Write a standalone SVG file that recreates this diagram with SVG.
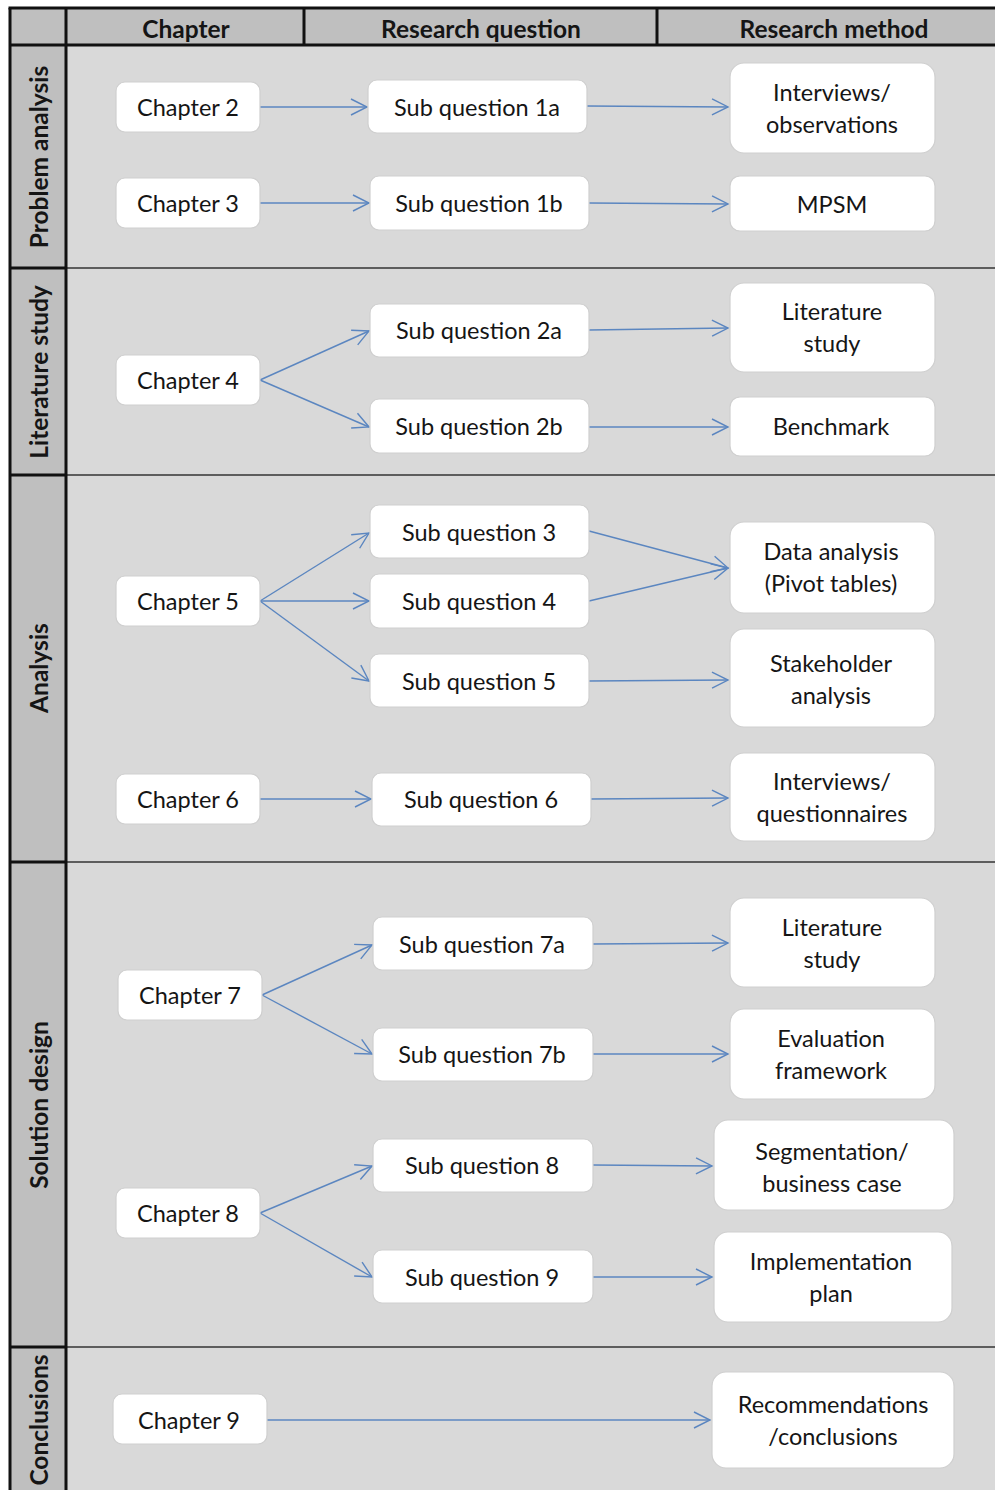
<svg xmlns="http://www.w3.org/2000/svg" width="995" height="1490" viewBox="0 0 995 1490">
<style>
.bg{fill:#d9d9d9}
.hd{fill:#bfbfbf}
.thick{stroke:#111;stroke-width:3;fill:none}
.thin{stroke:#333;stroke-width:1.5;fill:none}
.box{fill:#fff;stroke:#cfcfcf;stroke-width:1.2}
.t{font-family:Lato,"Open Sans","Liberation Sans",sans-serif;font-size:23.5px;fill:#151515;text-anchor:middle;dominant-baseline:central}
.h{font-family:Lato,"Open Sans","Liberation Sans",sans-serif;font-size:24.5px;font-weight:bold;fill:#151515;text-anchor:middle;dominant-baseline:central}
.r{font-family:Lato,"Open Sans","Liberation Sans",sans-serif;font-size:24.5px;font-weight:bold;fill:#151515;text-anchor:middle;dominant-baseline:central}
.c{stroke:#5b86c0;stroke-width:1.4;fill:none;marker-end:url(#ah)}
</style>
<defs>
<marker id="ah" markerUnits="userSpaceOnUse" markerWidth="20" markerHeight="22" viewBox="-18 -10 20 20" refX="0" refY="0" orient="auto">
<path d="M-16,-8 L0,0 L-16,8" fill="none" stroke="#5b86c0" stroke-width="1.4"/>
</marker>
</defs>
<g id="table">
<rect x="0" y="0" width="995" height="1490" fill="#fff"/>
<rect class="bg" x="66" y="45" width="929" height="1445"/>
<rect class="hd" x="10" y="8" width="985" height="37"/>
<rect class="hd" x="10" y="45" width="56" height="1445"/>
<line class="thin" x1="66" y1="268" x2="995" y2="268"/>
<line class="thin" x1="66" y1="475" x2="995" y2="475"/>
<line class="thin" x1="66" y1="862" x2="995" y2="862"/>
<line class="thin" x1="66" y1="1347" x2="995" y2="1347"/>
<line class="thick" x1="10" y1="268" x2="66" y2="268"/>
<line class="thick" x1="10" y1="475" x2="66" y2="475"/>
<line class="thick" x1="10" y1="862" x2="66" y2="862"/>
<line class="thick" x1="10" y1="1347" x2="66" y2="1347"/>
<line class="thick" x1="8.5" y1="8" x2="995" y2="8"/>
<line class="thick" x1="10" y1="45" x2="995" y2="45"/>
<line class="thick" x1="10" y1="8" x2="10" y2="1490"/>
<line class="thick" x1="66" y1="8" x2="66" y2="1490"/>
<line class="thick" x1="304" y1="8" x2="304" y2="45"/>
<line class="thick" x1="657" y1="8" x2="657" y2="45"/>
<text class="h" x="186" y="28">Chapter</text>
<text class="h" x="481" y="28">Research question</text>
<text class="h" x="834" y="28">Research method</text>
<text class="r" transform="translate(38,157) rotate(-90)">Problem analysis</text>
<text class="r" transform="translate(38,372) rotate(-90)">Literature study</text>
<text class="r" transform="translate(38,668) rotate(-90)">Analysis</text>
<text class="r" transform="translate(38,1105) rotate(-90)">Solution design</text>
<text class="r" transform="translate(38,1420) rotate(-90)">Conclusions</text>
</g>
<g id="connectors">
<line class="c" x1="260" y1="107" x2="367" y2="107"/>
<line class="c" x1="587" y1="106" x2="728" y2="107"/>
<line class="c" x1="260" y1="203" x2="369" y2="203"/>
<line class="c" x1="589" y1="203" x2="728" y2="204"/>
<line class="c" x1="260" y1="380" x2="369" y2="331"/>
<line class="c" x1="260" y1="380" x2="369" y2="427"/>
<line class="c" x1="589" y1="330" x2="728" y2="328"/>
<line class="c" x1="589" y1="427" x2="728" y2="427"/>
<line class="c" x1="260" y1="601" x2="369" y2="533"/>
<line class="c" x1="260" y1="601" x2="369" y2="601"/>
<line class="c" x1="260" y1="601" x2="369" y2="681"/>
<line class="c" x1="589" y1="531" x2="728" y2="568"/>
<line class="c" x1="589" y1="601" x2="728" y2="568"/>
<line class="c" x1="589" y1="681" x2="728" y2="680"/>
<line class="c" x1="260" y1="799" x2="371" y2="799"/>
<line class="c" x1="591" y1="799" x2="728" y2="798"/>
<line class="c" x1="262" y1="995" x2="372" y2="945"/>
<line class="c" x1="262" y1="995" x2="372" y2="1054"/>
<line class="c" x1="593" y1="944" x2="728" y2="943"/>
<line class="c" x1="593" y1="1054" x2="728" y2="1054"/>
<line class="c" x1="260" y1="1213" x2="372" y2="1166"/>
<line class="c" x1="260" y1="1213" x2="372" y2="1277"/>
<line class="c" x1="593" y1="1165" x2="712" y2="1166"/>
<line class="c" x1="593" y1="1277" x2="712" y2="1277"/>
<line class="c" x1="267" y1="1420" x2="710" y2="1420"/>
</g>
<g id="n-ch2"><rect class="box" x="116" y="82" width="144" height="50" rx="9"/><text class="t" x="188" y="107">Chapter 2</text></g>
<g id="n-ch3"><rect class="box" x="116" y="178" width="144" height="50" rx="9"/><text class="t" x="188" y="203">Chapter 3</text></g>
<g id="n-sq1a"><rect class="box" x="368" y="80" width="219" height="53" rx="9"/><text class="t" x="477" y="107">Sub question 1a</text></g>
<g id="n-sq1b"><rect class="box" x="370" y="176" width="219" height="54" rx="9"/><text class="t" x="479" y="203">Sub question 1b</text></g>
<g id="n-m1"><rect class="box" x="730" y="63" width="205" height="90" rx="14"/><text class="t" x="832" y="92">Interviews/</text><text class="t" x="832" y="124">observations</text></g>
<g id="n-m2"><rect class="box" x="730" y="176" width="205" height="55" rx="10"/><text class="t" x="832" y="204">MPSM</text></g>
<g id="n-ch4"><rect class="box" x="116" y="355" width="144" height="50" rx="9"/><text class="t" x="188" y="380">Chapter 4</text></g>
<g id="n-sq2a"><rect class="box" x="370" y="304" width="219" height="53" rx="9"/><text class="t" x="479" y="330">Sub question 2a</text></g>
<g id="n-sq2b"><rect class="box" x="370" y="399" width="219" height="54" rx="9"/><text class="t" x="479" y="426">Sub question 2b</text></g>
<g id="n-m3"><rect class="box" x="730" y="283" width="205" height="89" rx="14"/><text class="t" x="832" y="311">Literature</text><text class="t" x="832" y="343">study</text></g>
<g id="n-m4"><rect class="box" x="730" y="397" width="205" height="59" rx="10"/><text class="t" x="831" y="426">Benchmark</text></g>
<g id="n-ch5"><rect class="box" x="116" y="576" width="144" height="50" rx="9"/><text class="t" x="188" y="601">Chapter 5</text></g>
<g id="n-sq3"><rect class="box" x="370" y="505" width="219" height="53" rx="9"/><text class="t" x="479" y="532">Sub question 3</text></g>
<g id="n-sq4"><rect class="box" x="370" y="574" width="219" height="54" rx="9"/><text class="t" x="479" y="601">Sub question 4</text></g>
<g id="n-sq5"><rect class="box" x="370" y="654" width="219" height="53" rx="9"/><text class="t" x="479" y="681">Sub question 5</text></g>
<g id="n-m5"><rect class="box" x="730" y="522" width="205" height="91" rx="14"/><text class="t" x="831" y="551">Data analysis</text><text class="t" x="831" y="583">(Pivot tables)</text></g>
<g id="n-m6"><rect class="box" x="730" y="629" width="205" height="98" rx="14"/><text class="t" x="831" y="663">Stakeholder</text><text class="t" x="831" y="695">analysis</text></g>
<g id="n-ch6"><rect class="box" x="116" y="774" width="144" height="50" rx="9"/><text class="t" x="188" y="799">Chapter 6</text></g>
<g id="n-sq6"><rect class="box" x="372" y="773" width="219" height="53" rx="9"/><text class="t" x="481" y="799">Sub question 6</text></g>
<g id="n-m7"><rect class="box" x="730" y="753" width="205" height="88" rx="14"/><text class="t" x="832" y="781">Interviews/</text><text class="t" x="832" y="813">questionnaires</text></g>
<g id="n-ch7"><rect class="box" x="118" y="970" width="144" height="50" rx="9"/><text class="t" x="190" y="995">Chapter 7</text></g>
<g id="n-sq7a"><rect class="box" x="373" y="917" width="220" height="53" rx="9"/><text class="t" x="482" y="944">Sub question 7a</text></g>
<g id="n-sq7b"><rect class="box" x="373" y="1028" width="220" height="53" rx="9"/><text class="t" x="482" y="1054">Sub question 7b</text></g>
<g id="n-m8"><rect class="box" x="730" y="898" width="205" height="89" rx="14"/><text class="t" x="832" y="927">Literature</text><text class="t" x="832" y="959">study</text></g>
<g id="n-m9"><rect class="box" x="730" y="1009" width="205" height="90" rx="14"/><text class="t" x="831" y="1038">Evaluation</text><text class="t" x="831" y="1070">framework</text></g>
<g id="n-ch8"><rect class="box" x="116" y="1188" width="144" height="50" rx="9"/><text class="t" x="188" y="1213">Chapter 8</text></g>
<g id="n-sq8"><rect class="box" x="373" y="1139" width="220" height="53" rx="9"/><text class="t" x="482" y="1165">Sub question 8</text></g>
<g id="n-sq9"><rect class="box" x="373" y="1250" width="220" height="53" rx="9"/><text class="t" x="482" y="1277">Sub question 9</text></g>
<g id="n-m10"><rect class="box" x="714" y="1120" width="240" height="90" rx="14"/><text class="t" x="832" y="1151">Segmentation/</text><text class="t" x="832" y="1183">business case</text></g>
<g id="n-m11"><rect class="box" x="714" y="1232" width="238" height="90" rx="14"/><text class="t" x="831" y="1261">Implementation</text><text class="t" x="831" y="1293">plan</text></g>
<g id="n-ch9"><rect class="box" x="113" y="1394" width="154" height="50" rx="9"/><text class="t" x="189" y="1420">Chapter 9</text></g>
<g id="n-m12"><rect class="box" x="712" y="1372" width="242" height="96" rx="14"/><text class="t" x="833" y="1404">Recommendations</text><text class="t" x="833" y="1436">/conclusions</text></g>
</svg>
